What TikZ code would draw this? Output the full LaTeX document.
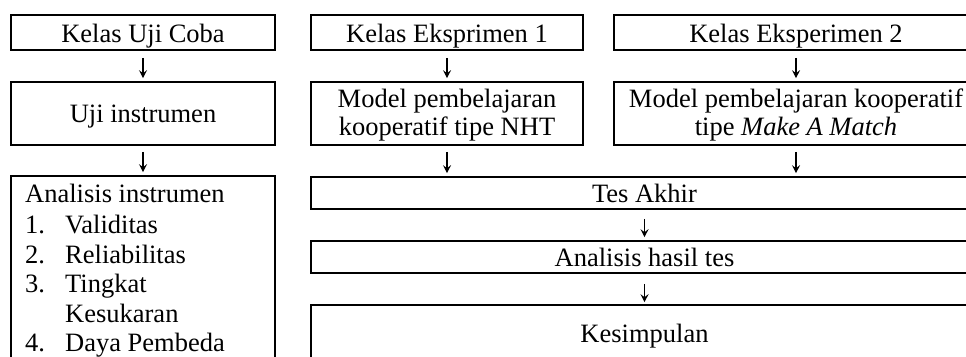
\documentclass[tikz,border=0pt]{standalone}
\usepackage{fontspec}
\setmainfont{Liberation Serif}
\usetikzlibrary{arrows.meta,calc}
\begin{document}
\begin{tikzpicture}[x=1pt,y=-1pt,
  box/.style={draw,line width=1.6pt,inner sep=0pt},
  lbl/.style={inner sep=0pt,anchor=base,font=\fontsize{26.5}{28}\selectfont},
  arr/.style={line width=1.3pt,-{Stealth[length=8pt,width=8pt,inset=3pt]}},
  txt/.style={inner sep=0pt,anchor=base west,font=\fontsize{26.5}{28}\selectfont}]
\clip (0,0) rectangle (966,356);
\fill[white] (0,0) rectangle (966,356);
% boxes
\node[box,minimum width=264pt,minimum height=35pt] (a1) at (143,32.5) {};
\node[box,minimum width=264pt,minimum height=63pt] (a2) at (143,113.5) {};
\node[box,minimum width=264pt,minimum height=186pt] (a3) at (143,269) {};
\node[box,minimum width=272pt,minimum height=35pt] (b1) at (447,32.5) {};
\node[box,minimum width=272pt,minimum height=63pt] (b2) at (447,113.5) {};
\node[box,minimum width=364pt,minimum height=35pt] (c1) at (796,32.5) {};
\node[box,minimum width=364pt,minimum height=63pt] (c2) at (796,113.5) {};
\node[box,minimum width=667pt,minimum height=32pt] (d1) at (644.5,193) {};
\node[box,minimum width=667pt,minimum height=32pt] (d2) at (644.5,257) {};
\node[box,minimum width=667pt,minimum height=56pt] (d3) at (644.5,333) {};
% box texts
\node[lbl] (a1t) at (143,42) {Kelas Uji Coba};
\node[lbl] (a2t) at (143,122) {Uji instrumen};
\node[lbl] (b1t) at (447,42) {Kelas Eksprimen 1};
\node[lbl] (b2t) at (447,107) {Model pembelajaran};
\node[lbl] (b2u) at (447,135) {kooperatif tipe NHT};
\node[lbl] (c1t) at (796,42) {Kelas Eksperimen 2};
\node[lbl] (c2t) at (796,107) {Model pembelajaran kooperatif};
\node[lbl] (c2u) at (796,135) {tipe \textit{Make A Match}};
\node[lbl] (d1t) at (644.5,202) {Tes Akhir};
\node[lbl] (d2t) at (644.5,266) {Analisis hasil tes};
\node[lbl] (d3t) at (644.5,342) {Kesimpulan};
% list text
\node[txt] (l0) at (25,202) {Analisis instrumen};
\node[txt] (n1) at (25,233) {1.};
\node[txt] (t1) at (65,233) {Validitas};
\node[txt] (n2) at (25,263) {2.};
\node[txt] (t2) at (65,263) {Reliabilitas};
\node[txt] (n3) at (25,292) {3.};
\node[txt] (t3) at (65,292) {Tingkat};
\node[txt] (t3b) at (65,322) {Kesukaran};
\node[txt] (n4) at (25,351) {4.};
\node[txt] (t4) at (65,351) {Daya Pembeda};
% arrows
\draw[arr] ($(a1.south)+(0,7)$) -- ($(a2.north)+(0,-3)$);
\draw[arr] ($(a2.south)+(0,6)$) -- ($(a3.north)+(0,-3)$);
\draw[arr] ($(b1.south)+(0,7)$) -- ($(b2.north)+(0,-3)$);
\draw[arr] ($(b2.south)+(0,6)$) -- ($(b2.south |- d1.north)+(0,-3)$);
\draw[arr] ($(c1.south)+(0,7)$) -- ($(c2.north)+(0,-3)$);
\draw[arr] ($(c2.south)+(0,6)$) -- ($(c2.south |- d1.north)+(0,-3)$);
\draw[arr] ($(d1.south)+(0,9)$) -- ($(d2.north)+(0,-3)$);
\draw[arr] ($(d2.south)+(0,10)$) -- ($(d3.north)+(0,-2)$);
\end{tikzpicture}
\end{document}
